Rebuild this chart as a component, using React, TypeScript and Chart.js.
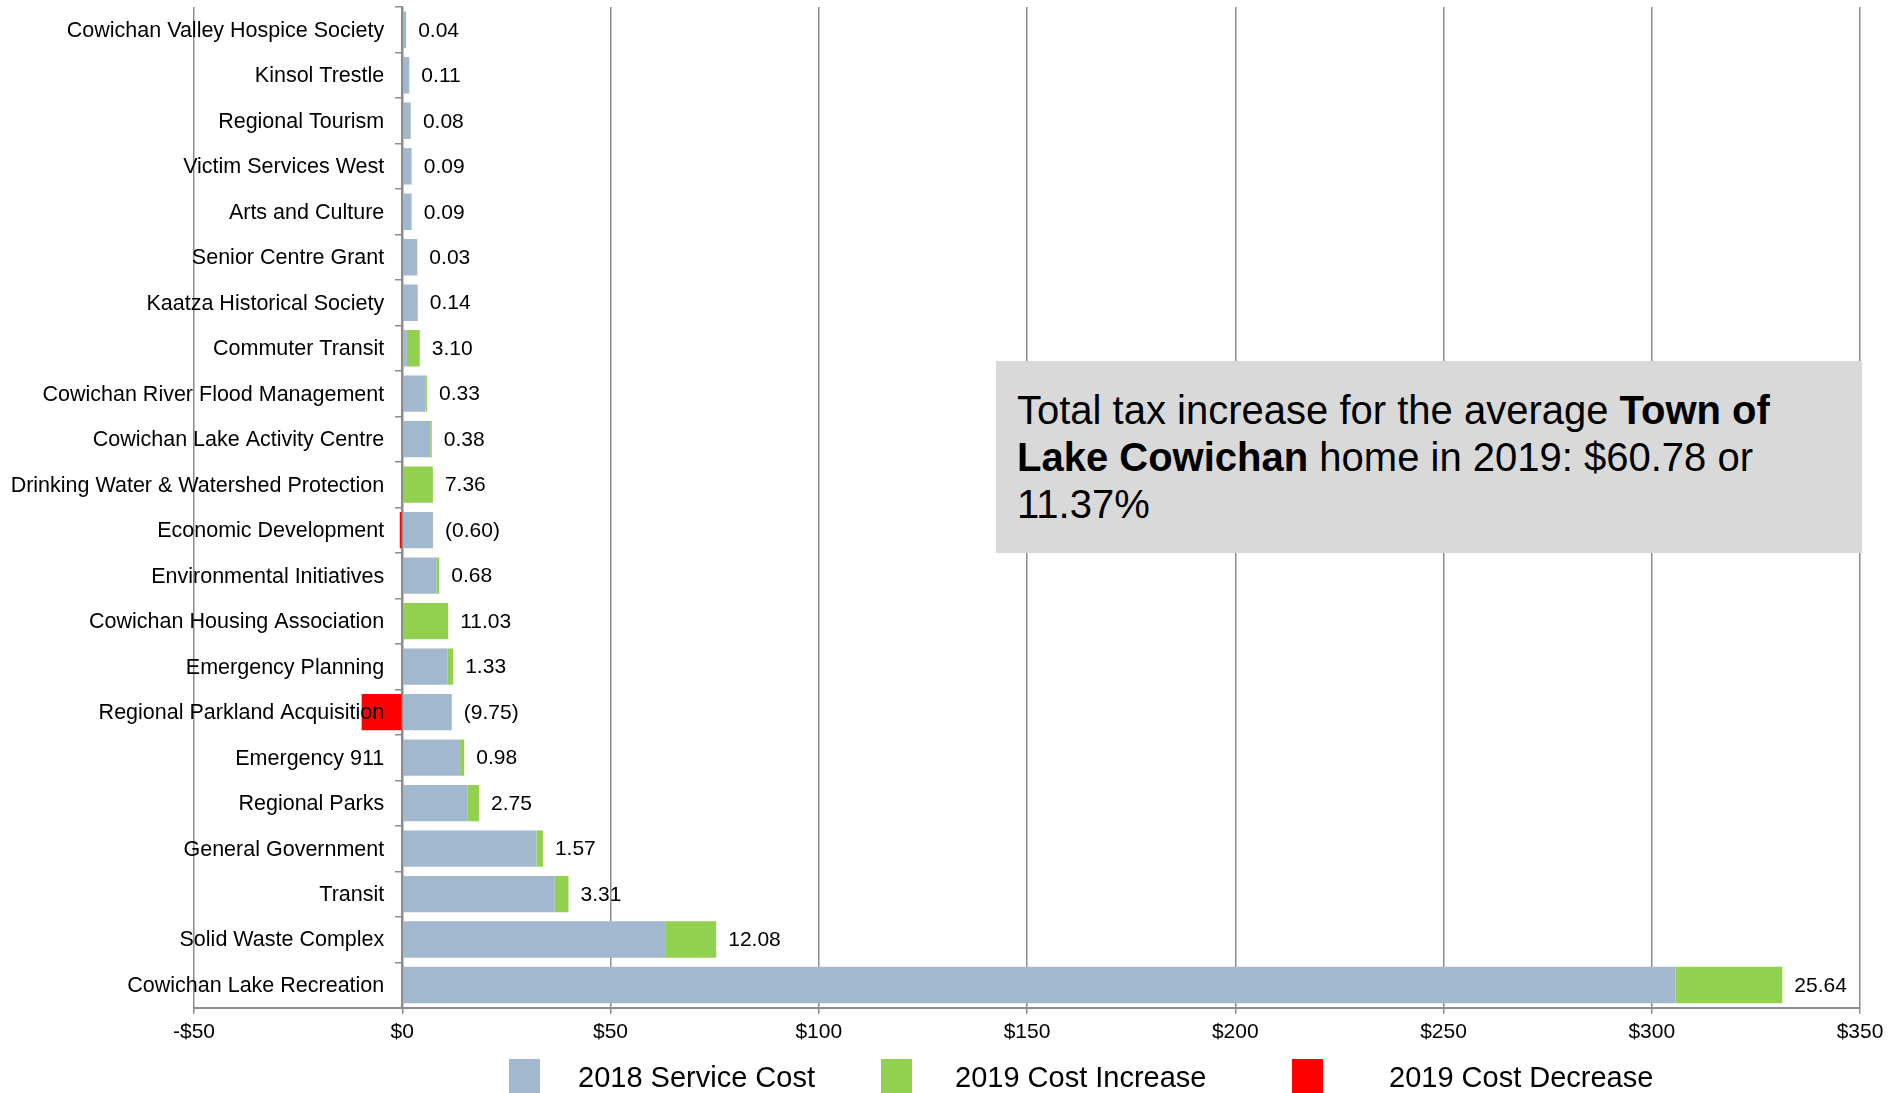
import React, { useEffect, useRef } from "react";
import { Chart, registerables } from "chart.js";

Chart.register(...registerables);

const FONT = '"Liberation Sans", Arial, Helvetica, sans-serif';

// Categories, top to bottom
const categories = [
  "Cowichan Valley Hospice Society",
  "Kinsol Trestle",
  "Regional Tourism",
  "Victim Services West",
  "Arts and Culture",
  "Senior Centre Grant",
  "Kaatza Historical Society",
  "Commuter Transit",
  "Cowichan River Flood Management",
  "Cowichan Lake Activity Centre",
  "Drinking Water & Watershed Protection",
  "Economic Development",
  "Environmental Initiatives",
  "Cowichan Housing Association",
  "Emergency Planning",
  "Regional Parkland Acquisition",
  "Emergency 911",
  "Regional Parks",
  "General Government",
  "Transit",
  "Solid Waste Complex",
  "Cowichan Lake Recreation",
];

// 2018 service cost ($)
const cost2018 = [
  0.9, 1.6, 2.0, 2.2, 2.2, 3.6, 3.6, 1.1, 5.6, 6.7, 0, 7.4, 8.2, 0, 10.9, 11.9,
  13.9, 15.7, 32.2, 36.6, 63.3, 305.7,
];

// 2019 cost increase ($)
const increase2019: (number | null)[] = [
  0.04, 0.11, 0.08, 0.09, 0.09, 0.03, 0.14, 3.1, 0.33, 0.38, 7.36, null, 0.68,
  11.03, 1.33, null, 0.98, 2.75, 1.57, 3.31, 12.08, 25.64,
];

// 2019 cost decrease ($)
const decrease2019: (number | null)[] = [
  null, null, null, null, null, null, null, null, null, null, null, -0.6, null,
  null, null, -9.75, null, null, null, null, null, null,
];

const seriesNames = ["2018 Service Cost", "2019 Cost Increase", "2019 Cost Decrease"];
const seriesColors = ["#A2B8CE", "#92D050", "#FF0000"];

const xMin = -50;
const xMax = 350;
const xStep = 50;

const labelsPlugin = {
  id: "valueAndCategoryLabels",
  afterDatasetsDraw(chart: any) {
    const { ctx } = chart;
    const x = chart.scales.x;
    const y = chart.scales.y;
    ctx.save();
    ctx.fillStyle = "#000";
    ctx.textBaseline = "middle";
    // category labels, right-aligned just left of the $0 axis
    ctx.font = `21.5px ${FONT}`;
    ctx.textAlign = "right";
    const axisX = x.getPixelForValue(0);
    categories.forEach((name, i) => {
      ctx.fillText(name, axisX - 18, y.getPixelForValue(i) + 1);
    });
    // value labels after each bar
    ctx.font = `21px ${FONT}`;
    ctx.textAlign = "left";
    categories.forEach((_, i) => {
      const inc = increase2019[i];
      const dec = decrease2019[i];
      const end = cost2018[i] + (inc != null ? inc : 0);
      const text =
        inc != null ? inc.toFixed(2) : `(${Math.abs(dec as number).toFixed(2)})`;
      ctx.fillText(text, x.getPixelForValue(end) + 12, y.getPixelForValue(i) + 1);
    });
    ctx.restore();
  },
};

export default function App() {
  const canvasRef = useRef<HTMLCanvasElement>(null);

  useEffect(() => {
    if (!canvasRef.current) return;
    Chart.defaults.font.family = FONT;
    const grid = "#8c8c8c";
    const chart = new Chart(canvasRef.current, {
      type: "bar",
      data: {
        labels: categories,
        datasets: [
          {
            label: seriesNames[0],
            data: cost2018,
            backgroundColor: seriesColors[0],
            barPercentage: 0.8,
            categoryPercentage: 1,
          },
          {
            label: seriesNames[1],
            data: increase2019,
            backgroundColor: seriesColors[1],
            barPercentage: 0.8,
            categoryPercentage: 1,
          },
          {
            label: seriesNames[2],
            data: decrease2019,
            backgroundColor: seriesColors[2],
            barPercentage: 0.8,
            categoryPercentage: 1,
          },
        ],
      } as any,
      options: {
        indexAxis: "y",
        animation: false,
        responsive: false,
        maintainAspectRatio: false,
        layout: { padding: { left: 194, right: 31, top: 7, bottom: 42 } },
        plugins: { legend: { display: false }, tooltip: { enabled: false } },
        scales: {
          x: {
            type: "linear",
            stacked: true,
            min: xMin,
            max: xMax,
            ticks: {
              stepSize: xStep,
              maxRotation: 0,
              padding: 6,
              color: "#000",
              font: { size: 21, family: FONT },
              callback: (v: any) => (v < 0 ? `-$${-v}` : `$${v}`),
            },
            grid: { color: grid, lineWidth: 1.5, tickLength: 6, tickColor: grid },
            border: { color: grid, width: 2 },
          },
          y: {
            type: "category",
            stacked: true,
            position: { x: 0 },
            offset: true,
            ticks: { display: false, autoSkip: false },
            grid: {
              drawOnChartArea: false,
              offset: true,
              tickLength: 6,
              color: grid,
              lineWidth: 1.5,
            },
            border: { color: grid, width: 2 },
            afterFit: (scale: any) => {
              scale.paddingTop = 0;
              scale.paddingBottom = 0;
            },
          },
        },
      } as any,
      plugins: [labelsPlugin],
    });
    return () => chart.destroy();
  }, []);

  const legendItems = [
    { box: 509, text: 578 },
    { box: 881, text: 955 },
    { box: 1292, text: 1389 },
  ];

  return (
    <div
      style={{
        position: "absolute",
        left: 0,
        top: 0,
        width: 1891,
        height: 1093,
        overflow: "hidden",
        background: "#fff",
        fontFamily: FONT,
      }}
    >
      <canvas
        ref={canvasRef}
        width={1891}
        height={1093}
        style={{ position: "absolute", left: 0, top: 0, width: 1891, height: 1093 }}
      />
      <div
        style={{
          position: "absolute",
          left: 996,
          top: 361,
          width: 866,
          height: 192,
          boxSizing: "border-box",
          background: "#D9D9D9",
          padding: "26px 0 0 21px",
          fontFamily: FONT,
          fontSize: 40,
          lineHeight: "47px",
          color: "#000",
          whiteSpace: "nowrap",
        }}
      >
        Total tax increase for the average <b>Town of</b>
        <br />
        <b>Lake Cowichan</b> home in 2019: $60.78 or
        <br />
        11.37%
      </div>
      {seriesNames.map((name, i) => (
        <React.Fragment key={name}>
          <div
            style={{
              position: "absolute",
              left: legendItems[i].box,
              top: 1059,
              width: 31,
              height: 34,
              background: seriesColors[i],
            }}
          />
          <div
            style={{
              position: "absolute",
              left: legendItems[i].text,
              top: 1060,
              fontSize: 29,
              lineHeight: "34px",
              color: "#000",
              whiteSpace: "nowrap",
              fontFamily: FONT,
            }}
          >
            {name}
          </div>
        </React.Fragment>
      ))}
    </div>
  );
}
